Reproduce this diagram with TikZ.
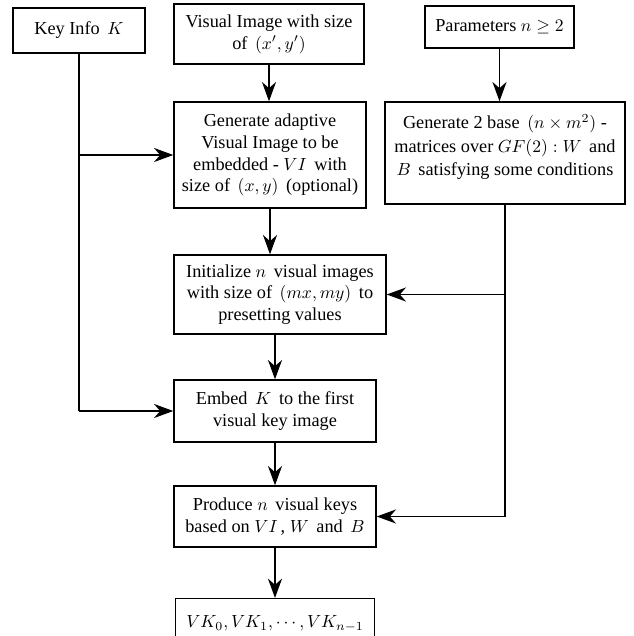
\documentclass[tikz,border=0pt]{standalone}
\usepackage{fontspec}
\setmainfont{Liberation Serif}
\usetikzlibrary{arrows.meta}
\begin{document}
\begin{tikzpicture}[x=0.02cm,y=-0.02cm,
  font=\fontsize{10.4}{12.4}\selectfont,
  box/.style={draw,line width=0.8pt,align=center,inner sep=0pt},
  flow/.style={line width=0.9pt,-{Stealth[length=11pt,width=8pt,inset=3.5pt]}}]
  \clip(0,0)rectangle(634,636);
  \node[box,minimum width=2.64cm,minimum height=0.9cm](key)at(79,30.5){Key Info\, $K$};
  \node[box,minimum width=3.8cm,minimum height=1.2cm](vis)at(269,34){Visual Image with size\\of\, $(x',y')$};
  \node[box,minimum width=2.98cm,minimum height=0.84cm](par)at(499.5,27){Parameters $n\geq 2$};
  \node[box,minimum width=3.84cm,minimum height=2.12cm](adapt)at(270,155){Generate adaptive\\Visual Image to be\\embedded - $VI$\, with\\size of\, $(x,y)$\, (optional)};
  \node[box,minimum width=4.8cm,minimum height=2.04cm](base)at(505,153){};
  \node[align=center,font=\fontsize{10.4}{13.4}\selectfont](basetxt)at(505,147){Generate 2 base\, $(n\times m^2)$ -\\matrices over $GF(2): W$\, and\\$B$\, satisfying some conditions};
  \node[box,minimum width=4.24cm,minimum height=1.58cm](init)at(280,294.5){Initialize $n$\, visual images\\with size of\, $(mx,my)$\, to\\presetting values};
  \node[box,minimum width=4.04cm,minimum height=1.24cm](embed)at(275,411){Embed\, $K$\, to the first\\visual key image};
  \node[box,minimum width=4.04cm,minimum height=1.22cm](prod)at(275,516.5){Produce $n$\, visual keys\\based on $VI$\,, $W$\, and\, $B$};
  \node[box,minimum width=3.98cm,minimum height=1.0cm,anchor=north](vk)at(275,598){$VK_0,VK_1,\cdots,VK_{n-1}$};
  % straight arrows down
  \draw[flow](vis.south)--(vis.south|-adapt.north);
  \draw[flow](adapt.south)--(adapt.south|-init.north);
  \draw[flow](embed.north|-init.south)--(embed.north);
  \draw[flow](embed.south)--(prod.north);
  \draw[flow](prod.south)--(vk.north);
  \draw[flow](par.south)--(par.south|-base.north);
  % key info line
  \draw[line width=0.9pt](key.south)--(key.south|-embed.west);
  \draw[flow](key.south|-adapt.west)--(adapt.west);
  \draw[flow](key.south|-embed.west)--(embed.west);
  % base matrices line
  \draw[line width=0.9pt](base.south)--(base.south|-prod.east);
  \draw[flow](base.south|-init.east)--(init.east);
  \draw[flow](base.south|-prod.east)--(prod.east);
\end{tikzpicture}
\end{document}
